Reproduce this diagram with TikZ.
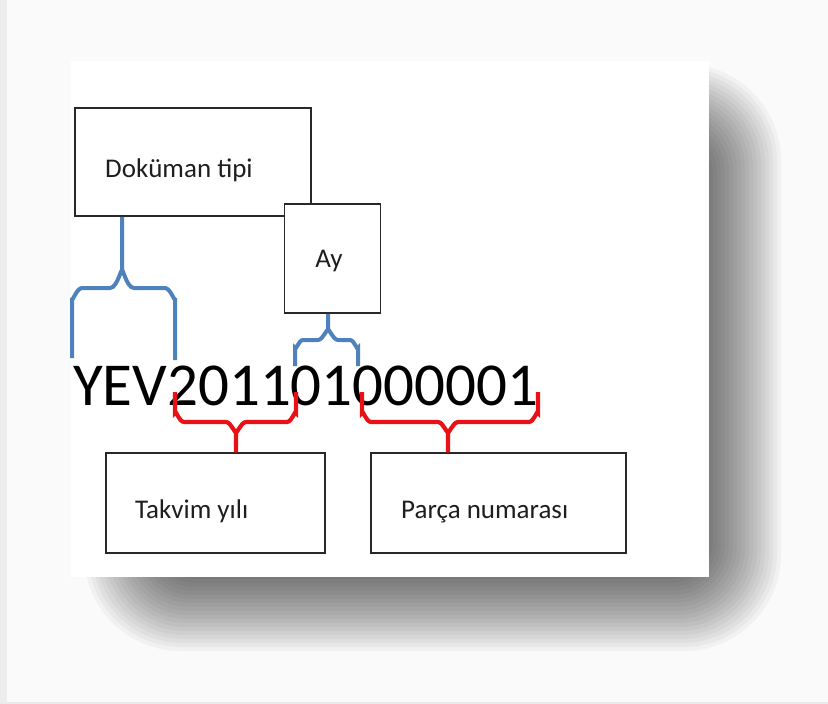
\documentclass[tikz,border=0pt]{standalone}
\usepackage{fontspec}
\setmainfont{Carlito}
\definecolor{bracebl}{RGB}{79,129,189}
\definecolor{bracerd}{RGB}{232,18,22}
\definecolor{boxline}{RGB}{40,40,40}
\definecolor{labeltxt}{RGB}{30,30,30}
\definecolor{pagebg}{RGB}{250,250,250}
\tikzset{
  labelbox/.style={draw=boxline, line width=1.5pt, fill=white, inner sep=0pt},
  bluebr/.style={draw=bracebl, line width=4pt, line cap=butt},
  redbr/.style={draw=bracerd, line width=4.2pt, line cap=butt},
  lbl/.style={font=\fontsize{27}{31}\selectfont, text=labeltxt, anchor=base west, inner sep=0pt}
}
\begin{document}
\begin{tikzpicture}[x=1pt, y=-1pt]
\useasboundingbox (0,0) rectangle (828,704);
% page background
\fill[pagebg] (0,0) rectangle (828,704);
\fill[black!7] (0,0) rectangle (7,704);
\fill[black!8] (0,702) rectangle (828,704);
% card shadow (soft, built from stacked translucent layers)
\foreach \k in {0,...,29} {
  \pgfmathsetmacro{\e}{-50+4*\k}
  \pgfmathsetmacro{\r}{4+(\e+50)*0.8}
  \fill[black, opacity=0.035, rounded corners=\r pt]
    ({150-\e},{130-\e}) rectangle ({715+\e},{585+\e});
}
% card
\fill[white] (71,61) rectangle (709,577);

% boxes
\node[labelbox, minimum width=236pt, minimum height=108pt] (doc) at (193,162) {};
\node[labelbox, minimum width=96pt, minimum height=109pt] (ay) at (332.5,258.5) {};
\node[labelbox, minimum width=219pt, minimum height=100pt] (tak) at (215.5,503) {};
\node[labelbox, minimum width=255pt, minimum height=100pt] (par) at (498.5,503) {};

% labels
\node[lbl] (docl) at (105,177) {Doküman tipi};
\node[lbl, anchor=base] (ayl) at (329,267) {Ay};
\node[lbl] (takl) at (135,518) {Takvim yılı};
\node[lbl] (parl) at (401,518) {Parça numarası};

% code
\node[font=\fontsize{61}{67}\selectfont, anchor=base west, inner sep=0pt] (code) at (73,405) {YEV201101000001};

% brace anchor coordinates
\coordinate (b1l) at (72,358);
\coordinate (b1r) at (175,360);
\coordinate (b1s) at (doc.south -| 122,0);
\coordinate (b2l) at (295,366);
\coordinate (b2r) at (358,366);
\coordinate (b2s) at (ay.south -| 328,0);
\coordinate (r1l) at (175,392);
\coordinate (r1r) at (296,392);
\coordinate (r1s) at (tak.north -| 236,0);
\coordinate (r2l) at (362,392);
\coordinate (r2r) at (538,392);
\coordinate (r2s) at (par.north -| 448,0);

% blue brace (Doküman tipi)
\draw[bluebr] (b1s) -- (122,272) to[out=90,in=0] (110,288) -- (82,288) to[out=180,in=-90] (72,298) -- (b1l);
\draw[bluebr] (122,272) to[out=90,in=180] (134,288) -- (165,288) to[out=0,in=-90] (175,298) -- (b1r);
% blue brace (Ay)
\draw[bluebr] (b2s) -- (328,331) to[out=90,in=0] (318,340) -- (303,340) to[out=180,in=-90] (295,348) -- (b2l);
\draw[bluebr] (328,331) to[out=90,in=180] (338,340) -- (350,340) to[out=0,in=-90] (358,348) -- (b2r);
% red brace (Takvim yili)
\draw[redbr] (r1l) -- (175,413) to[out=90,in=180] (184,422) -- (226,422) to[out=0,in=-90] (236,431) -- (r1s);
\draw[redbr] (r1r) -- (296,413) to[out=90,in=0] (287,422) -- (246,422) to[out=180,in=-90] (236,431);
% red brace (Parca numarasi)
\draw[redbr] (r2l) -- (362,413) to[out=90,in=180] (371,422) -- (438,422) to[out=0,in=-90] (448,431) -- (r2s);
\draw[redbr] (r2r) -- (538,413) to[out=90,in=0] (529,422) -- (458,422) to[out=180,in=-90] (448,431);
\end{tikzpicture}
\end{document}
